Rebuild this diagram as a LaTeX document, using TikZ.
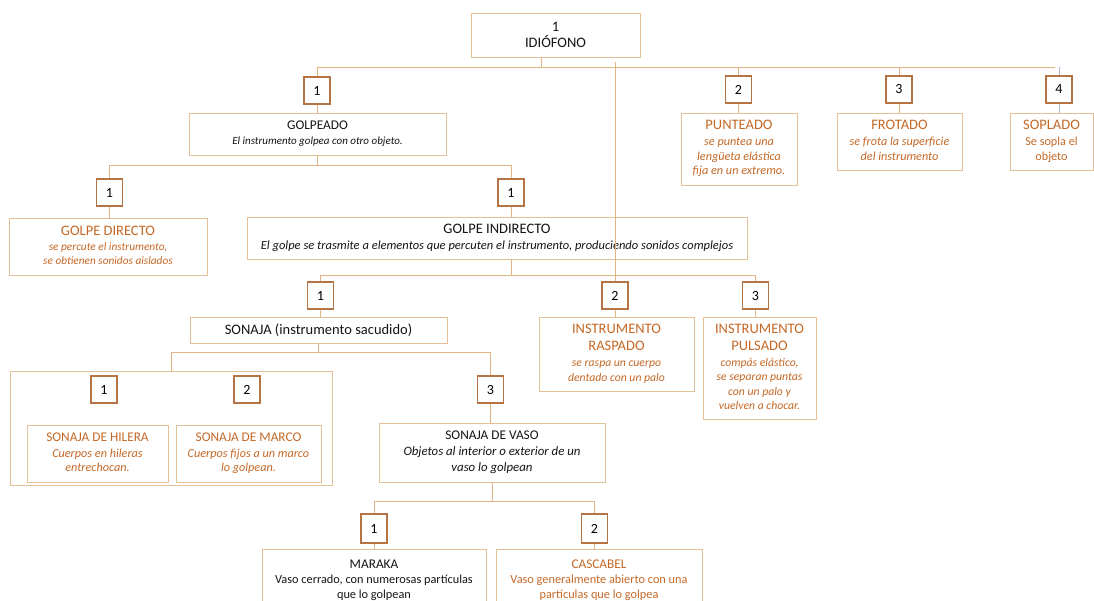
\documentclass[tikz,border=0pt]{standalone}
\usepackage{fontspec}
\setmainfont{Carlito}
\definecolor{linec}{RGB}{224,180,132}
\definecolor{boxc}{RGB}{228,192,152}
\definecolor{numc}{RGB}{182,116,68}
\definecolor{txto}{RGB}{196,104,38}
\definecolor{txtk}{RGB}{20,20,20}
\definecolor{bluec}{RGB}{170,186,206}
\newcommand\Hs{\fontsize{14.5pt}{16pt}\selectfont}
\newcommand\Hm{\fontsize{13.3pt}{15pt}\selectfont}
\newcommand\Bs{\fontsize{12.2pt}{14.5pt}\selectfont}
\newcommand\Ln[2]{{#1\strut #2}}
\tikzset{
  conn/.style={draw=linec, line width=0.9pt},
  numbox/.style={draw=numc, line width=1.3pt, minimum width=26pt, minimum height=27pt, inner sep=0pt, font=\fontsize{14pt}{16pt}\selectfont, text=black},
  cbox/.style={draw=boxc, line width=0.9pt, inner sep=0pt, align=center, font=\Bs},
  kbox/.style={cbox, text=txtk},
  obox/.style={cbox, text=txto},
}
\begin{document}
\begin{tikzpicture}[x=1pt,y=-1pt]
\useasboundingbox (0,0) rectangle (1094,600);
\clip (0,0) rectangle (1094,600);

% top
\node[kbox, minimum width=169pt, minimum height=44pt, font=\Hs] (idio) at (555.5,35) {1\\IDIÓFONO};

\node[numbox] (n1) at (317,90.5) {1};
\node[kbox, minimum width=257pt, minimum height=42pt] (golpeado) at (317.5,134) {\Ln{\Hm}{GOLPEADO}\\\Ln{\fontsize{11pt}{13.5pt}\selectfont\itshape}{El instrumento golpea con otro objeto.}};

\node[numbox] (n2p) at (738.5,89.5) {2};
\node[obox, minimum width=116pt, minimum height=72pt] (punteado) at (739,149) {\Ln{\Hs}{PUNTEADO}\\\Ln{\Bs\itshape}{se puntea una}\\\Ln{\Bs\itshape}{lengüeta elástica}\\\Ln{\Bs\itshape}{fija en un extremo.}};

\node[numbox] (n3f) at (899,89.5) {3};
\node[obox, minimum width=125pt, minimum height=57pt] (frotado) at (899.5,141.5) {\Ln{\Hs}{FROTADO}\\\Ln{\Bs\itshape}{se frota la superficie}\\\Ln{\Bs\itshape}{del instrumento}};

\node[numbox] (n4s) at (1059,89.5) {4};
\node[obox, minimum width=83pt, minimum height=57pt] (soplado) at (1051.5,141.5) {\Ln{\Hs}{SOPLADO}\\\Ln{\Bs}{Se sopla el}\\\Ln{\Bs}{objeto}};

% golpeado children
\node[numbox] (n1gd) at (109.5,192.5) {1};
\node[obox, minimum width=198pt, minimum height=57pt] (gdirecto) at (108,246.5) {\Ln{\Hs}{GOLPE DIRECTO}\\\Ln{\fontsize{11.3pt}{13.8pt}\selectfont\itshape}{se percute el instrumento,}\\\Ln{\fontsize{11.3pt}{13.8pt}\selectfont\itshape}{se obtienen sonidos aislados}};

\node[numbox] (n1gi) at (511,192.5) {1};
\node[kbox, minimum width=500pt, minimum height=42pt] (gindirecto) at (497,238) {\Ln{\Hs}{GOLPE INDIRECTO}\\\Ln{\fontsize{12.5pt}{14.5pt}\selectfont\itshape}{El golpe se trasmite a elementos que percuten el instrumento, produciendo sonidos complejos}};

% golpe indirecto children
\node[numbox] (n1s) at (320.5,295.5) {1};
\node[kbox, minimum width=257pt, minimum height=26pt, font=\Hs] (sonaja) at (318.5,330) {SONAJA (instrumento sacudido)};

\node[numbox] (n2r) at (615,295.5) {2};
\node[obox, minimum width=155pt, minimum height=74pt] (raspado) at (616.5,354) {\Ln{\Hs}{INSTRUMENTO}\\\Ln{\Hs}{RASPADO}\\\Ln{\fontsize{11.7pt}{14pt}\selectfont\itshape}{se raspa un cuerpo}\\\Ln{\fontsize{11.7pt}{14pt}\selectfont\itshape}{dentado con un palo}};

\node[numbox] (n3p) at (755.5,295.5) {3};
\node[obox, minimum width=113pt, minimum height=102pt] (pulsado) at (759.5,368) {\Ln{\Hs}{INSTRUMENTO}\\\Ln{\Hs}{PULSADO}\\\Ln{\fontsize{11.7pt}{14pt}\selectfont\itshape}{compás elástico,}\\\Ln{\fontsize{11.7pt}{14pt}\selectfont\itshape}{se separan puntas}\\\Ln{\fontsize{11.7pt}{14pt}\selectfont\itshape}{con un palo y}\\\Ln{\fontsize{11.7pt}{14pt}\selectfont\itshape}{vuelven a chocar.}};

% sonaja children
\node[cbox, minimum width=322pt, minimum height=114pt] (group) at (171,428) {};
\node[numbox] (n1h) at (104,389.5) {1};
\node[numbox] (n2m) at (247,389.5) {2};
\node[obox, minimum width=141pt, minimum height=57pt] (hilera) at (97.5,453.5) {\Ln{\Hm}{SONAJA DE HILERA}\\\Ln{\Bs\itshape}{Cuerpos en hileras}\\\Ln{\Bs\itshape}{entrechocan.}};
\node[obox, minimum width=145pt, minimum height=57pt] (marco) at (248.5,453.5) {\Ln{\Hm}{SONAJA DE MARCO}\\\Ln{\Bs\itshape}{Cuerpos fijos a un marco}\\\Ln{\Bs\itshape}{lo golpean.}};

\node[numbox] (n3v) at (490.5,389.5) {3};
\node[kbox, minimum width=226pt, minimum height=59pt] (vaso) at (492,452.5) {\Ln{\Hm}{SONAJA DE VASO}\\\Ln{\fontsize{12.8pt}{15pt}\selectfont\itshape}{Objetos al interior o exterior de un}\\\Ln{\fontsize{12.8pt}{15pt}\selectfont\itshape}{vaso lo golpean}};

% vaso children
\node[numbox, minimum height=29pt] (n1mk) at (374,528.5) {1};
\node[numbox, minimum height=29pt] (n2c) at (594.5,528.5) {2};
\node[kbox, minimum width=224pt, minimum height=62pt] (maraka) at (374,580) {\Ln{\Hm}{MARAKA}\\\Ln{\fontsize{12.3pt}{14.5pt}\selectfont}{Vaso cerrado, con numerosas partículas}\\\Ln{\fontsize{12.3pt}{14.5pt}\selectfont}{que lo golpean}};
\node[obox, minimum width=206pt, minimum height=62pt] (cascabel) at (599,580) {\Ln{\Hm}{CASCABEL}\\\Ln{\fontsize{12.3pt}{14.5pt}\selectfont}{Vaso generalmente abierto con una}\\\Ln{\fontsize{12.3pt}{14.5pt}\selectfont}{partículas que lo golpea}};

% bars
\coordinate (bar1) at (0,67);
\coordinate (top2) at (0,62);
\coordinate (bar2) at (0,165);
\coordinate (bar3) at (0,275);
\coordinate (bar4) at (0,352);
\coordinate (bar5) at (0,501);
\coordinate (idiofoot) at ([xshift=-14pt]idio.south);

% connectors level 1
\draw[conn] (idiofoot) -- (idiofoot |- bar1);
\draw[conn] (n1.north |- bar1) -- ([xshift=-4pt]n4s.north |- bar1);
\draw[conn] (n1.north |- bar1) -- (n1.north);
\draw[conn] (n2p.north |- bar1) -- (n2p.north);
\draw[conn] (n3f.north |- bar1) -- (n3f.north);
\draw[bluec, line width=0.9pt] (n4s.north |- bar1) -- (n4s.north);
\draw[conn] (n1.south) -- (n1.south |- golpeado.north);
\draw[conn] (n2p.south) -- (n2p.south |- punteado.north);
\draw[conn] (n3f.south) -- (n3f.south |- frotado.north);
\draw[bluec, line width=0.9pt] (n4s.south) -- (n4s.south |- soplado.north);
\draw[conn] (n2r.north) -- (n2r.north |- top2);

% golpeado
\draw[conn] (golpeado.south) -- (golpeado.south |- bar2);
\draw[conn] (n1gd.north |- bar2) -- (n1gi.north |- bar2);
\draw[conn] (n1gd.north |- bar2) -- (n1gd.north);
\draw[conn] (n1gi.north |- bar2) -- (n1gi.north);
\draw[conn] (n1gd.south) -- (n1gd.south |- gdirecto.north);
\draw[conn] (n1gi.south) -- (n1gi.south |- gindirecto.north);

% golpe indirecto
\draw[conn] (n1gi.south |- gindirecto.south) -- (n1gi.south |- bar3);
\draw[conn] (n1s.north |- bar3) -- (n3p.north |- bar3);
\draw[conn] (n1s.north |- bar3) -- (n1s.north);
\draw[conn] (n3p.north |- bar3) -- (n3p.north);
\draw[conn] (n1s.south) -- (n1s.south |- sonaja.north);
\draw[conn] (n2r.south) -- (n2r.south |- raspado.north);
\draw[conn] (n3p.south) -- (n3p.south |- pulsado.north);

% sonaja
\draw[conn] (sonaja.south) -- (sonaja.south |- bar4);
\draw[conn] (group.north |- bar4) -- (n3v.north |- bar4);
\draw[conn] (group.north |- bar4) -- (group.north);
\draw[conn] (n3v.north |- bar4) -- (n3v.north);
\draw[conn] (n3v.south) -- (n3v.south |- vaso.north);

% vaso
\draw[conn] (vaso.south) -- (vaso.south |- bar5);
\draw[conn] (n1mk.north |- bar5) -- (n2c.north |- bar5);
\draw[conn] (n1mk.north |- bar5) -- (n1mk.north);
\draw[conn] (n2c.north |- bar5) -- (n2c.north);
\draw[conn] (n1mk.south) -- (n1mk.south |- maraka.north);
\draw[conn] (n2c.south) -- (n2c.south |- cascabel.north);
\end{tikzpicture}
\end{document}
